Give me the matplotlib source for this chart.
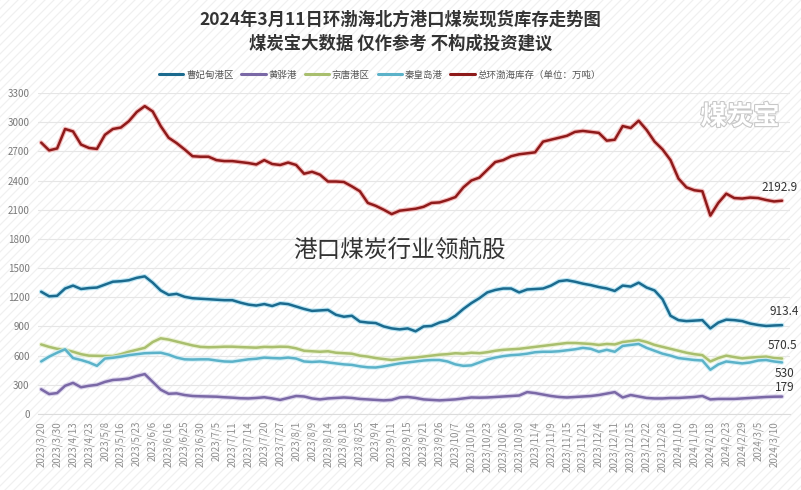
import numpy as np
import matplotlib
matplotlib.use("Agg")
import matplotlib.pyplot as plt
import matplotlib.patheffects as pe

plt.rcParams['font.family'] = ['Noto Sans CJK SC', 'DejaVu Sans']

# %% data (万吨), one value per sample, ticks on every 2nd sample
tick_labels = ["2023/3/20", "2023/3/30", "2023/4/13", "2023/4/23", "2023/5/8",
               "2023/5/16", "2023/5/23", "2023/6/6", "2023/6/16", "2023/6/25",
               "2023/6/30", "2023/7/5", "2023/7/11", "2023/7/14", "2023/7/20",
               "2023/7/27", "2023/8/1", "2023/8/9", "2023/8/14", "2023/8/18",
               "2023/8/25", "2023/9/4", "2023/9/11", "2023/9/15", "2023/9/21",
               "2023/9/26", "2023/10/7", "2023/10/16", "2023/10/23", "2023/10/26",
               "2023/10/30", "2023/11/4", "2023/11/9", "2023/11/15", "2023/11/21",
               "2023/12/4", "2023/12/11", "2023/12/15", "2023/12/22", "2023/12/28",
               "2024/1/10", "2024/1/19", "2024/2/18", "2024/2/23", "2024/2/29",
               "2024/3/5", "2024/3/10"]

total = [2790, 2710, 2730, 2930, 2905, 2770, 2735, 2725, 2870, 2930,
         2945, 3010, 3105, 3165, 3110, 2960, 2840, 2785, 2720, 2650,
         2645, 2645, 2610, 2600, 2600, 2590, 2580, 2565, 2610, 2570,
         2560, 2585, 2560, 2470, 2490, 2460, 2390, 2390, 2385, 2340,
         2290, 2170, 2140, 2100, 2055, 2090, 2100, 2110, 2130, 2170,
         2175, 2200, 2230, 2330, 2400, 2430, 2510, 2590, 2610, 2650,
         2670, 2680, 2690, 2800, 2820, 2840, 2860, 2900, 2910, 2900,
         2890, 2810, 2820, 2960, 2940, 3015, 2920, 2800, 2720, 2610,
         2420, 2330, 2300, 2290, 2040, 2170, 2265, 2220, 2215, 2225,
         2220, 2200, 2185, 2192.9]

caofeidian = [1257, 1210, 1215, 1290, 1320, 1285, 1295, 1300, 1330, 1360,
              1365, 1375, 1400, 1415, 1350, 1270, 1225, 1235, 1205, 1190,
              1185, 1180, 1175, 1170, 1170, 1145, 1125, 1115, 1130, 1110,
              1138, 1130, 1105, 1080, 1060, 1065, 1070, 1020, 1000, 1010,
              950, 940, 935, 900, 880, 870, 880, 850, 900, 905,
              940, 960, 1010, 1080, 1140, 1190, 1250, 1275, 1290, 1290,
              1250, 1280, 1285, 1290, 1320, 1365, 1375, 1360, 1340, 1325,
              1305, 1290, 1265, 1320, 1310, 1350, 1300, 1270, 1180, 1010,
              965, 955, 960, 965, 880, 940, 970, 965, 955, 930,
              915, 905, 910, 913.4]

huanghua = [254, 205, 215, 290, 320, 275, 290, 300, 330, 350,
            355, 365, 390, 410, 330, 250, 208, 212, 195, 185,
            182, 180, 178, 172, 168, 162, 160, 165, 172, 160,
            145, 165, 185, 180, 160, 150, 160, 165, 170, 165,
            155, 150, 145, 140, 145, 170, 175, 165, 150, 145,
            140, 145, 150, 160, 170, 168, 170, 175, 180, 185,
            190, 225, 215, 200, 185, 175, 170, 175, 180, 185,
            195, 210, 225, 170, 195, 180, 165, 160, 160, 165,
            165, 170, 175, 185, 150, 155, 155, 155, 160, 165,
            170, 175, 178, 179]

jingtang = [715, 690, 670, 660, 640, 615, 600, 598, 596, 596,
            615, 640, 660, 680, 740, 778, 765, 745, 725, 705,
            690, 686, 688, 692, 692, 688, 685, 682, 690, 688,
            692, 690, 675, 650, 645, 640, 645, 630, 625, 620,
            600, 590, 575, 565, 555, 565, 575, 580, 590, 600,
            610, 615, 625, 620, 630, 625, 635, 650, 660, 665,
            670, 680, 690, 700, 710, 720, 730, 730, 725, 720,
            710, 720, 715, 740, 750, 760, 740, 710, 690, 670,
            650, 630, 615, 605, 540, 575, 600, 585, 572, 580,
            585, 590, 575, 570.5]

qinhuangdao = [540, 590, 630, 665, 575, 555, 530, 495, 570, 578,
               590, 605, 615, 625, 628, 630, 610, 580, 562, 560,
               562, 562, 550, 540, 538, 550, 562, 568, 580, 575,
               572, 580, 570, 540, 535, 540, 530, 520, 510, 505,
               490, 480, 478, 490, 505, 520, 530, 540, 550, 555,
               555, 540, 510, 495, 500, 530, 560, 580, 595, 605,
               610, 620, 635, 640, 640, 645, 655, 665, 680, 670,
               640, 660, 640, 700, 710, 720, 680, 650, 620, 600,
               575, 565, 555, 550, 455, 510, 540, 530, 520, 530,
               550, 555, 540, 530]

series = [("曹妃甸港区", caofeidian, "#1b6a8e", "#9fdcf0"),
          ("黄骅港", huanghua, "#7a68a6", "#cfc6e6"),
          ("京唐港区", jingtang, "#a9bf6e", "#e6efc6"),
          ("秦皇岛港", qinhuangdao, "#5bb2c9", "#c9ecf5"),
          ("总环渤海库存（单位：万吨）", total, "#8e1a1a", "#f0a0a0")]
end_texts = ["913.4", "179", "570.5", "530", "2192.9"]

# %%
fig = plt.figure(figsize=(8.01, 4.9), dpi=100)
fig.patch.set_facecolor("white")

# faint diagonal watermark stripes behind everything (plain lines, in pixels)
bg_ax = fig.add_axes([0, 0, 1, 1], zorder=-5)
bg_ax.set_xlim(0, 801)
bg_ax.set_ylim(0, 490)
bg_ax.axis("off")
for c in np.arange(-490, 801, 9):
    bg_ax.plot([c, c + 490], [0, 490], color="#f0f0f0", linewidth=0.9)

ax = fig.add_axes([38/801, 1-414/490, (790-38)/801, (414-93)/490])
ax.patch.set_alpha(0)

x = np.arange(len(total))
handles = []
for name, vals, col, halo in series:
    ln, = ax.plot(x, vals, color=col, linewidth=1.8, label=name, zorder=3,
                  solid_capstyle="round",
                  path_effects=[pe.Stroke(linewidth=3.4, foreground=halo, alpha=0.7),
                                pe.Normal()])
    handles.append(ln)

# offsets (points) and vertical alignment of the end labels
offsets = [(-9, 5, "bottom"), (-5, 2, "bottom"), (-10, 5, "bottom"),
           (-5, -3, "top"), (-15, 5, "bottom")]
for (name, vals, col, halo), txt, (dx, dy, va) in zip(series, end_texts, offsets):
    ax.annotate(txt, (x[-1], vals[-1]), xytext=(dx, dy), textcoords="offset points",
                fontsize=8.5, color="#333333", ha="left", va=va)

ax.set_xlim(-0.4, 94)
ax.set_ylim(0, 3300)
ax.set_yticks(np.arange(0, 3301, 300))
ax.set_xticks(x[::2])
ax.set_xticklabels(tick_labels, rotation=90, fontsize=7, color="#909090")
ax.tick_params(axis="y", labelsize=7, colors="#7a7a7a", length=0, pad=6)
ax.tick_params(axis="x", length=0, pad=5)
ax.grid(axis="y", color="#e6e6e6", linewidth=0.8)
for s in ["top", "right", "left"]:
    ax.spines[s].set_visible(False)
ax.spines["bottom"].set_color("#dcdcdc")

fig.text(0.5, 1-20/490, "2024年3月11日环渤海北方港口煤炭现货库存走势图",
         ha="center", va="center", fontsize=12.5, fontweight="bold", color="#333333")
fig.text(0.5, 1-44/490, "煤炭宝大数据 仅作参考 不构成投资建议",
         ha="center", va="center", fontsize=12.5, fontweight="bold", color="#333333")

leg = fig.legend(handles=handles, loc="center", bbox_to_anchor=(380/801, 1-75/490),
                 ncol=5, frameon=False, fontsize=6.8, handlelength=2.6,
                 handletextpad=0.3, columnspacing=0.8)
for t in leg.get_texts():
    t.set_color("#555555")
for h in leg.legend_handles:
    h.set_linewidth(2.2)
    h.set_path_effects([])

fig.text(740/801, 1-117/490, "煤炭宝", ha="center", va="center", fontsize=19,
         fontweight="bold", color="white", style="italic",
         path_effects=[pe.Stroke(linewidth=1.6, foreground="#c8c8c8"), pe.Normal()])

fig.text(400/801, 1-250/490, "港口煤炭行业领航股", ha="center", va="center",
         fontsize=17, color="#333333")

fig.savefig("out.png", dpi=100)
